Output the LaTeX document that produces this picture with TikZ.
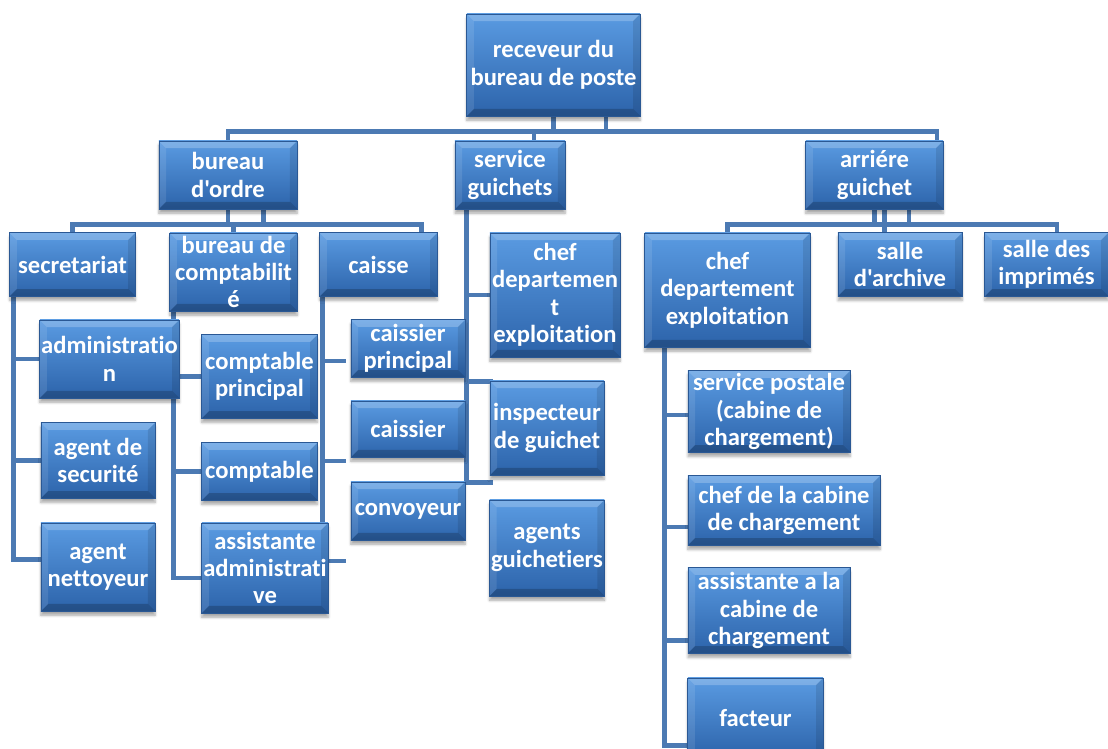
\documentclass[tikz,border=0pt]{standalone}
\usepackage{fontspec}
\setmainfont{Carlito}[Ligatures={TeXOff,NoCommon}]
\usetikzlibrary{backgrounds,shadows.blur}
\definecolor{boxtop}{HTML}{5A9BE2}
\definecolor{boxbot}{HTML}{2C63AA}
\definecolor{boxedge}{HTML}{2A5894}
\definecolor{linkblue}{HTML}{4C7AB3}
\tikzset{
  poste/.style={top color=boxtop, bottom color=boxbot, draw=boxedge, line width=0.6pt,
    text=white, font=\fontsize{17.5}{19.5}\selectfont\bfseries, align=center, inner sep=1pt,
    blur shadow={shadow xshift=0pt, shadow yshift=-3pt, shadow blur steps=6, shadow opacity=35},
    path picture={
      \fill[white,opacity=0.22] (path picture bounding box.north west) -- (path picture bounding box.north east)
        -- ([shift={(-5pt,-5pt)}]path picture bounding box.north east) -- ([shift={(5pt,-5pt)}]path picture bounding box.north west) -- cycle;
      \fill[black,opacity=0.2] (path picture bounding box.south west) -- (path picture bounding box.south east)
        -- ([shift={(-5pt,5pt)}]path picture bounding box.south east) -- ([shift={(5pt,5pt)}]path picture bounding box.south west) -- cycle;
      \fill[white,opacity=0.1] (path picture bounding box.north west) -- ([shift={(5pt,-5pt)}]path picture bounding box.north west)
        -- ([shift={(5pt,5pt)}]path picture bounding box.south west) -- (path picture bounding box.south west) -- cycle;
      \fill[black,opacity=0.1] (path picture bounding box.north east) -- ([shift={(-5pt,-5pt)}]path picture bounding box.north east)
        -- ([shift={(-5pt,5pt)}]path picture bounding box.south east) -- (path picture bounding box.south east) -- cycle;
    }},
  lien/.style={draw=linkblue, line width=3.4pt}
}
\begin{document}
\begin{tikzpicture}[x=0.025cm,y=-0.025cm]
\useasboundingbox (0,0) rectangle (1108,748);
% niveau 0 et 1
\node[poste, minimum width=4.33cm, minimum height=2.55cm] (nodeRec) at (553.5,65) {receveur du\\bureau de poste};
\node[poste, minimum width=3.45cm, minimum height=1.7cm] (nodeBO) at (228,175) {bureau\\d'ordre};
\node[poste, minimum width=2.75cm, minimum height=1.7cm] (nodeSG) at (510,175) {service\\guichets};
\node[poste, minimum width=3.43cm, minimum height=1.7cm] (nodeAG) at (874.5,175) {arriére\\guichet};
% niveau 2
\node[poste, minimum width=3.13cm, minimum height=1.58cm] (nodeSec) at (72.5,264.5) {secretariat};
\node[poste, minimum width=3.18cm, minimum height=1.95cm] (nodeBC) at (233.5,272) {bureau de\\comptabilit\\é};
\node[poste, minimum width=2.93cm, minimum height=1.58cm] (nodeCaisse) at (378.5,264.5) {caisse};
\node[poste, minimum width=3.25cm, minimum height=3.1cm] (nodeChefG) at (555,295) {chef\\departemen\\t\\exploitation};
\node[poste, minimum width=4.13cm, minimum height=2.85cm] (nodeChefA) at (727.5,290) {chef\\departement\\exploitation};
\node[poste, minimum width=3.1cm, minimum height=1.58cm] (nodeSA) at (900,264.5) {salle\\d'archive};
\node[poste, minimum width=3.08cm, minimum height=1.58cm] (nodeSI) at (1046.5,264.5) {salle des\\imprimés};
% secretariat
\node[poste, minimum width=3.43cm, minimum height=1.95cm] (nodeAdm) at (109.5,359) {administratio\\n};
\node[poste, minimum width=2.85cm, minimum height=1.88cm] (nodeSecu) at (98,460.5) {agent de\\securité};
\node[poste, minimum width=2.85cm, minimum height=2.2cm] (nodeNet) at (98,567) {agent\\nettoyeur};
% comptabilite
\node[poste, minimum width=2.88cm, minimum height=2.08cm] (nodeCP) at (259.5,376.5) {comptable\\principal};
\node[poste, minimum width=2.88cm, minimum height=1.43cm] (nodeCpt) at (259.5,471.5) {comptable};
\node[poste, minimum width=3.15cm, minimum height=2.25cm] (nodeAA) at (265,568) {assistante\\administrati\\ve};
% caisse
\node[poste, minimum width=2.85cm, minimum height=1.43cm] (nodeCaP) at (408,348.5) {caissier\\principal};
\node[poste, minimum width=2.85cm, minimum height=1.4cm] (nodeCai) at (408,429) {caissier};
\node[poste, minimum width=2.85cm, minimum height=1.45cm] (nodeCon) at (408,511) {convoyeur};
% guichets
\node[poste, minimum width=2.85cm, minimum height=2.35cm] (nodeIns) at (547,428) {inspecteur\\de guichet};
\node[poste, minimum width=2.85cm, minimum height=2.4cm] (nodeAgt) at (547,548) {agents\\guichetiers};
% arriere guichet
\node[poste, minimum width=4.05cm, minimum height=2.03cm] (nodeSP) at (769,411.5) {service postale\\(cabine de\\chargement)};
\node[poste, minimum width=4.8cm, minimum height=1.73cm] (nodeCCC) at (784,510.5) {chef de la cabine\\de chargement};
\node[poste, minimum width=4.05cm, minimum height=2.13cm] (nodeACC) at (769,610.5) {assistante a la\\cabine de\\chargement};
\node[poste, minimum width=3.38cm, minimum height=2cm] (nodeFac) at (755.5,718) {facteur};
\begin{pgfonlayer}{background}
\draw[lien] (nodeRec.south) -- ++(0,15) -| (nodeBO.north);
\draw[lien] (nodeRec.south) ++(0,15) -| ([xshift=0.6cm]nodeSG.north);
\draw[lien] (nodeRec.south) ++(0,15) -| ([xshift=1.56cm]nodeAG.north);
\draw[lien] ([xshift=1.31cm]nodeRec.south) -- ++(0,15);
\draw[lien] (nodeBO.south) -- ++(0,15) -| (nodeSec.north);
\draw[lien] (nodeBO.south) ++(0,15) -| (nodeBC.north);
\draw[lien] (nodeBO.south) ++(0,15) -| ([xshift=1.08cm]nodeCaisse.north);
\draw[lien] ([xshift=0.88cm]nodeBO.south) -- ++(0,15);
\draw[lien] (nodeAG.south) -- ++(0,15) -| (nodeChefA.north);
\draw[lien] (nodeAG.south) ++(0,15) -| ([xshift=0.26cm]nodeSI.north);
\draw[lien] ([xshift=-0.38cm]nodeSA.north) -- ([xshift=-0.38cm]nodeSA.north |- nodeAG.south);
\draw[lien] ([xshift=0.86cm]nodeAG.south) -- ++(0,15);
\draw[lien] ([xshift=0.1cm]nodeSec.south west) |- (nodeAdm.west);
\draw[lien] ([xshift=0.1cm]nodeSec.south west) |- (nodeSecu.west);
\draw[lien] ([xshift=0.1cm]nodeSec.south west) |- ([yshift=0.18cm]nodeNet.west);
\draw[lien] ([xshift=0.1cm]nodeBC.south west) |- (nodeCP.west);
\draw[lien] ([xshift=0.1cm]nodeBC.south west) |- (nodeCpt.west);
\draw[lien] ([xshift=0.1cm]nodeBC.south west) |- ([yshift=-0.25cm]nodeAA.west);
\draw[lien] ([xshift=0.08cm]nodeCaisse.south west) |- ([shift={(-0.12cm,-0.31cm)}]nodeCaP.west);
\draw[lien] ([xshift=0.08cm]nodeCaisse.south west) |- ([shift={(-0.12cm,-0.8cm)}]nodeCai.west);
\draw[lien] ([xshift=0.08cm]nodeCaisse.south west) |- ([shift={(-0.12cm,-1.25cm)}]nodeCon.west);
\draw[lien] ([xshift=0.3cm]nodeSG.south west) |- (nodeChefG.west);
\draw[lien] ([xshift=0.3cm]nodeSG.south west) |- ([shift={(0.08cm,-0.03cm)}]nodeIns.north west);
\draw[lien] ([xshift=0.3cm]nodeSG.south west) |- ([shift={(0.08cm,-0.18cm)}]nodeIns.south west);
\draw[lien] ([xshift=0.5cm]nodeChefA.south west) |- ([yshift=-0.09cm]nodeSP.west);
\draw[lien] ([xshift=0.5cm]nodeChefA.south west) |- ([yshift=-0.41cm]nodeCCC.west);
\draw[lien] ([xshift=0.5cm]nodeChefA.south west) |- ([yshift=-0.74cm]nodeACC.west);
\draw[lien] ([xshift=0.5cm]nodeChefA.south west) |- ([yshift=-0.68cm]nodeFac.west);
\end{pgfonlayer}
\end{tikzpicture}
\end{document}
